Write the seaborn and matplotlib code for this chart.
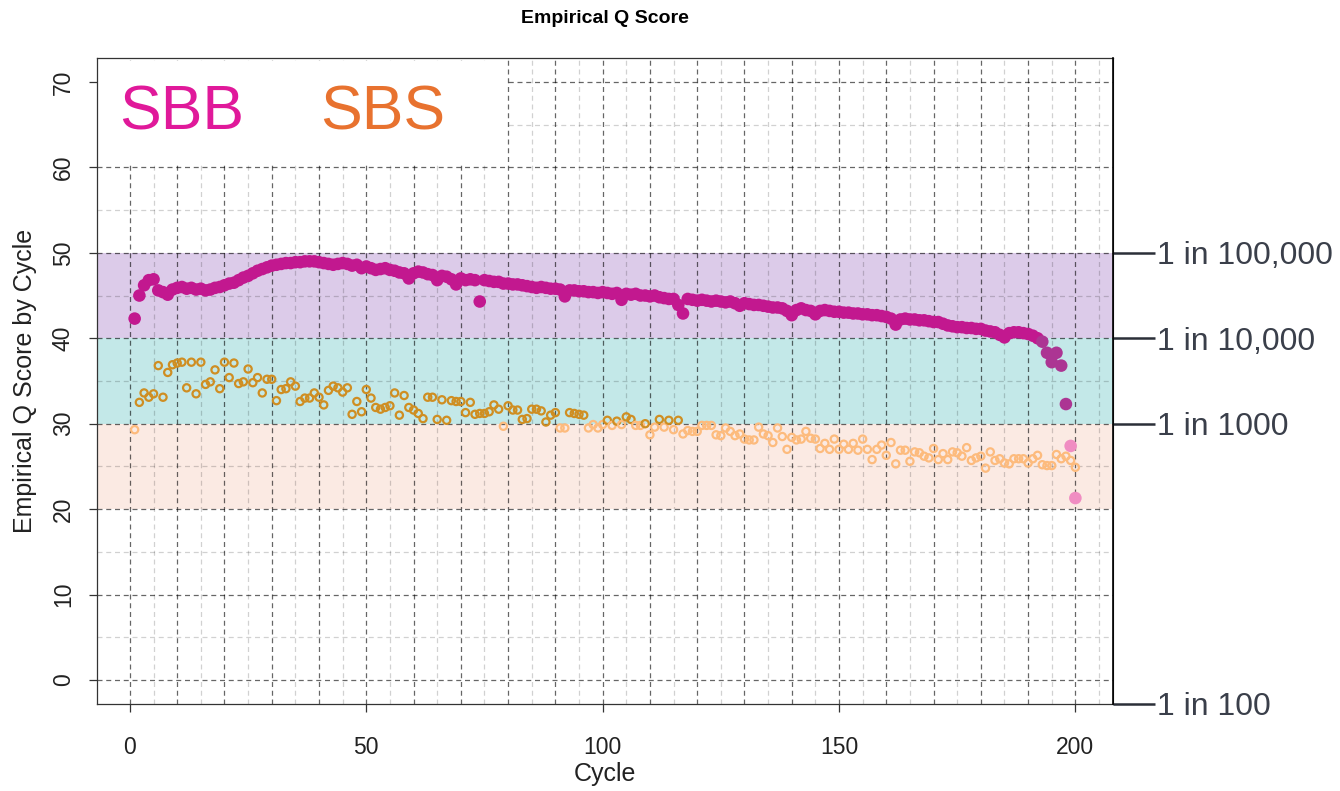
"""
Empirical Q score by cycle, SBB vs SBS.
"""

import matplotlib
matplotlib.use("Agg")
import matplotlib.pyplot as plt
from matplotlib.patches import Rectangle
import numpy as np
import pandas as pd
import seaborn as sns

# ---- data ----
cycles = list(range(1, 201))

sbb_q = [
    42.3, 45.0, 46.2, 46.8, 46.9, 45.6, 45.4, 45.1, 45.7, 45.9,
    46.0, 45.8, 45.9, 45.7, 45.8, 45.6, 45.7, 45.9, 46.0, 46.2,
    46.4, 46.5, 46.8, 47.1, 47.3, 47.6, 47.9, 48.1, 48.3, 48.5,
    48.6, 48.7, 48.8, 48.8, 48.9, 48.9, 49.0, 49.0, 49.0, 48.9,
    48.8, 48.7, 48.6, 48.7, 48.8, 48.7, 48.5, 48.6, 48.2, 48.4,
    48.2, 48.0, 48.1, 48.2, 48.0, 47.9, 47.7, 47.6, 47.0, 47.6,
    47.8, 47.7, 47.5, 47.4, 46.8, 47.3, 47.2, 46.9, 46.3, 47.0,
    46.8, 46.9, 46.8, 44.3, 46.8, 46.7, 46.6, 46.6, 46.4, 46.4,
    46.3, 46.3, 46.2, 46.1, 46.0, 45.9, 46.0, 45.9, 45.8, 45.8,
    45.7, 44.9, 45.6, 45.6, 45.5, 45.5, 45.4, 45.4, 45.3, 45.4,
    45.3, 45.2, 45.3, 44.5, 45.2, 45.1, 45.2, 45.0, 45.0, 44.9,
    45.0, 44.8, 44.7, 44.6, 44.6, 43.9, 42.9, 44.6, 44.5, 44.4,
    44.5, 44.4, 44.3, 44.4, 44.3, 44.2, 44.3, 44.1, 43.8, 44.1,
    44.0, 43.9, 43.9, 43.8, 43.7, 43.6, 43.6, 43.5, 43.2, 42.7,
    43.3, 43.5, 43.3, 43.2, 42.8, 43.2, 43.3, 43.2, 43.1, 43.1,
    43.0, 43.0, 42.9, 42.9, 42.8, 42.8, 42.7, 42.7, 42.6, 42.5,
    42.3, 41.6, 42.2, 42.3, 42.2, 42.2, 42.1, 42.1, 42.0, 41.9,
    41.9, 41.7, 41.5, 41.4, 41.3, 41.3, 41.2, 41.2, 41.1, 41.1,
    40.9, 40.8, 40.7, 40.4, 40.1, 40.6, 40.7, 40.7, 40.6, 40.5,
    40.3, 40.0, 39.6, 38.3, 37.2, 38.3, 36.8, 32.3, 27.4, 21.3,
]

sbs_q = [
    29.3, 32.5, 33.6, 33.1, 33.5, 36.8, 33.1, 36.0, 36.9, 37.1,
    37.2, 34.2, 37.2, 33.5, 37.2, 34.6, 34.9, 36.3, 34.1, 37.2,
    35.4, 37.1, 34.7, 34.9, 36.4, 34.8, 35.4, 33.6, 35.2, 35.2,
    32.7, 34.0, 34.1, 34.9, 34.4, 32.6, 33.0, 33.0, 33.6, 33.1,
    32.2, 33.9, 34.4, 34.2, 33.7, 34.2, 31.1, 32.6, 31.4, 34.0,
    33.0, 31.9, 31.7, 31.9, 32.1, 33.6, 31.0, 33.3, 31.9, 31.6,
    31.2, 30.6, 33.1, 33.1, 30.5, 32.8, 30.4, 32.7, 32.6, 32.6,
    31.3, 32.5, 31.1, 31.2, 31.2, 31.4, 32.2, 31.7, 29.7, 32.1,
    31.6, 31.6, 30.5, 30.6, 31.7, 31.7, 31.5, 30.2, 31.0, 31.3,
    29.5, 29.5, 31.3, 31.2, 31.1, 31.0, 29.5, 29.9, 29.5, 29.9,
    30.4, 29.8, 30.3, 29.9, 30.8, 30.5, 29.8, 29.8, 30.0, 28.7,
    29.6, 30.5, 29.6, 30.4, 29.3, 30.4, 28.8, 29.2, 29.1, 29.1,
    29.8, 29.8, 29.8, 28.7, 28.6, 29.5, 29.1, 28.6, 28.8, 28.2,
    28.1, 28.1, 29.6, 28.8, 28.6, 27.8, 29.5, 28.5, 27.0, 28.4,
    28.1, 28.2, 29.1, 28.3, 28.2, 27.1, 27.7, 27.0, 28.2, 27.0,
    27.6, 27.0, 27.7, 26.9, 28.2, 27.0, 25.8, 27.0, 27.5, 26.3,
    27.8, 25.3, 26.9, 26.9, 25.6, 26.7, 26.6, 26.2, 26.0, 27.1,
    25.8, 26.5, 25.8, 26.7, 26.6, 26.2, 27.2, 25.7, 26.0, 26.2,
    24.8, 26.7, 25.7, 25.9, 25.4, 25.3, 25.9, 25.9, 25.9, 25.4,
    25.9, 26.3, 25.2, 25.1, 25.1, 26.4, 25.9, 26.2, 25.7, 24.9,
]

right_ticks = [50, 40, 30, -2.8]
right_labels = ["1 in 100,000", "1 in 10,000", "1 in 1000", "1 in 100"]

bands = [(40, 50, "#DCCBE9"), (30, 40, "#C3E8E8"), (20, 30, "#FBEAE3")]

sbb_palette = {"high": "#C2188F", "mid": "#AC3593", "low": "#F08DC2"}
sbs_palette = {"high": "#CF8E22", "mid": "#CF8E22", "low": "#FDBB7D"}


def band_of(q):
    if q >= 40:
        return "high"
    if q >= 30:
        return "mid"
    return "low"


sbb_df = pd.DataFrame({"cycle": cycles, "q": sbb_q})
sbb_df["band"] = sbb_df["q"].map(band_of)
sbs_df = pd.DataFrame({"cycle": cycles, "q": sbs_q})
sbs_df["band"] = sbs_df["q"].map(band_of)

# ---- figure ----
sns.set_style("white")
plt.rcParams["font.family"] = ["Liberation Sans", "DejaVu Sans"]

fig = plt.figure(figsize=(13.4, 7.91), dpi=100)
ax = fig.add_axes([0.0724, 0.110, 0.7582, 0.8167])

xlim = (-6.96, 207.96)
ylim = (-2.8, 72.8)
ax.set_xlim(xlim)
ax.set_ylim(ylim)

for lo, hi, col in bands:
    ax.axhspan(lo, hi, color=col, lw=0, zorder=0.1)

# grid: dark dashes every 10, light dashes on the 5s
for v in np.arange(5, 206, 10):
    ax.axvline(v, color="black", alpha=0.18, lw=0.9, ls=(0, (4, 3)), zorder=0.3)
for v in np.arange(0, 201, 10):
    ax.axvline(v, color="black", alpha=0.6, lw=0.9, ls=(0, (4, 3)), zorder=0.4)
for v in np.arange(5, 71, 10):
    ax.axhline(v, color="black", alpha=0.18, lw=0.9, ls=(0, (4, 3)), zorder=0.3)
for v in np.arange(0, 71, 10):
    ax.axhline(v, color="black", alpha=0.6, lw=0.9, ls=(0, (4, 3)), zorder=0.4)

# white legend box behind the labels
ax.add_patch(Rectangle((xlim[0], 60.25), 80 - 0.3 - xlim[0], 72.4 - 60.25,
                       facecolor="white", edgecolor="none", zorder=0.6))

sns.scatterplot(data=sbs_df, x="cycle", y="q", hue="band", palette=sbs_palette,
                s=27, linewidth=1.6, legend=False, ax=ax, zorder=3)
pts = ax.collections[-1]
pts.set_edgecolors(pts.get_facecolors())
pts.set_facecolors("none")

sns.scatterplot(data=sbb_df, x="cycle", y="q", hue="band", palette=sbb_palette,
                s=82, linewidth=0, legend=False, ax=ax, zorder=4)

ax.text(-2.2, 66.4, "SBB", color="#E0199A", fontsize=45, va="center", ha="left", zorder=5)
ax.text(40.3, 66.4, "SBS", color="#E8722F", fontsize=45, va="center", ha="left", zorder=5)

ax.set_xticks([0, 50, 100, 150, 200])
ax.set_yticks(np.arange(0, 71, 10))
ax.tick_params(axis="x", length=6, width=0.9, color="#333333", pad=17,
               labelsize=16.5, labelcolor="#222222", bottom=True)
ax.tick_params(axis="y", length=6, width=0.9, color="#333333", pad=10,
               labelsize=16.5, labelcolor="#222222", labelrotation=90, left=True)
for lab in ax.get_yticklabels():
    lab.set_va("center")

ax.set_xlabel("Cycle", fontsize=18, labelpad=2, color="#222222")
ax.set_ylabel("Empirical Q Score by Cycle", fontsize=18, labelpad=11, color="#222222")
for side in ["left", "top", "bottom"]:
    ax.spines[side].set_color("#333333")
    ax.spines[side].set_linewidth(0.9)

# right axis with error-rate labels
ax2 = ax.twinx()
ax2.set_ylim(ylim)
ax2.set_yticks(right_ticks)
ax2.set_yticklabels(right_labels)
ax2.tick_params(axis="y", length=30, width=1.8, color="#2B2F38", pad=2,
                labelsize=23, labelcolor="#3A3F4A", right=True)
ax2.spines["right"].set_color("black")
ax2.spines["right"].set_linewidth(1.2)
for side in ["left", "top", "bottom"]:
    ax2.spines[side].set_visible(False)

fig.text(0.4515, 0.977, "Empirical Q Score", fontsize=14, fontweight="bold",
         ha="center", va="center", color="black")

fig.savefig("out.png", dpi=100)
